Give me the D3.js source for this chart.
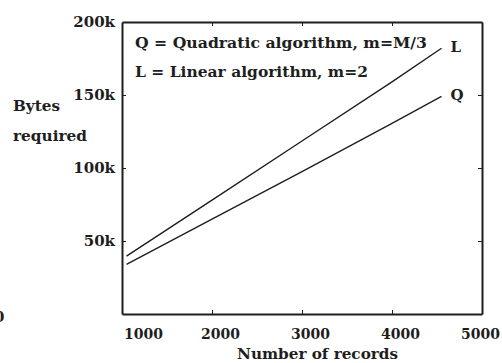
<!DOCTYPE html>
<html>
<head>
<meta charset="utf-8">
<script src="https://cdn.jsdelivr.net/npm/d3@7"></script>
<style>
body { margin: 0; background: #fff; }
text { font-family: "DejaVu Serif", serif; font-weight: bold; fill: #1e1e1e; }
.axis text { font-size: 14px; }
.yaxis text { font-size: 15px; }
.axis path, .axis line { stroke: #1e1e1e; }
</style>
</head>
<body>
<script>
// values (bytes in thousands)
var records = [1050, 2000, 3000, 4000, 4550];
var linearBytes = [39.6, 78, 118.5, 159, 182];
var quadraticBytes = [34, 65, 97.5, 130.5, 149];

var xTicks = [1000, 2000, 3000, 4000, 5000];
var yTicks = [50, 100, 150, 200];
var legendLines = ["Q = Quadratic algorithm, m=M/3", "L = Linear algorithm, m=2"];

var width = 502, height = 363;

var svg = d3.select("body").append("svg")
    .attr("width", width)
    .attr("height", height);

var x = d3.scaleLinear().domain([1000, 5000]).range([122, 482]);
var y = d3.scaleLinear().domain([0, 200]).range([314, 22]);

// bottom axis, ticks point inward
var bottomAxis = svg.append("g").attr("class", "axis")
    .attr("transform", "translate(0," + y(0) + ")")
    .call(d3.axisBottom(x).tickValues(xTicks).tickSizeInner(-4).tickSizeOuter(0).tickPadding(15)
        .tickFormat(d3.format("d")));
bottomAxis.select(".domain").attr("stroke-width", 2);
bottomAxis.selectAll(".tick text")
    .attr("dx", function(d) { return d == 1000 ? 21 : d == 5000 ? -2 : 8; });
bottomAxis.selectAll(".tick line").filter(function(d) { return d == 1000 || d == 5000; }).remove();

var leftAxis = svg.append("g").attr("class", "axis yaxis")
    .attr("transform", "translate(" + x(1000) + ",0)")
    .call(d3.axisLeft(y).tickValues(yTicks).tickSizeInner(-4).tickSizeOuter(0).tickPadding(7)
        .tickFormat(function(d) { return d + "k"; }));
leftAxis.select(".domain").attr("stroke-width", 2);
leftAxis.selectAll(".tick line").filter(function(d) { return d == 200; }).remove();

var topAxis = svg.append("g").attr("class", "axis")
    .attr("transform", "translate(0," + y(200) + ")")
    .call(d3.axisTop(x).tickValues(xTicks.slice(1, 4)).tickSizeInner(-4).tickSizeOuter(0).tickFormat(""));
topAxis.select(".domain").attr("stroke-width", 2);

var rightAxis = svg.append("g").attr("class", "axis")
    .attr("transform", "translate(" + x(5000) + ",0)")
    .call(d3.axisRight(y).tickValues(yTicks.slice(0, 3)).tickSizeInner(-4).tickSizeOuter(0).tickFormat(""));
rightAxis.select(".domain").attr("stroke-width", 2);

// series
var line = d3.line()
    .x(function(d) { return x(d[0]); })
    .y(function(d) { return y(d[1]); });

var series = [
    { name: "L", values: d3.zip(records, linearBytes) },
    { name: "Q", values: d3.zip(records, quadraticBytes) }
];

svg.selectAll(".series")
    .data(series)
    .enter().append("path")
    .attr("class", "series")
    .attr("fill", "none")
    .attr("stroke", "#1e1e1e")
    .attr("stroke-width", 1.4)
    .attr("d", function(s) { return line(s.values); });

function lastPoint(a) { return a[a.length - 1]; }

svg.selectAll(".endlabel")
    .data(series)
    .enter().append("text")
    .attr("class", "endlabel")
    .attr("x", function(s) { return x(lastPoint(s.values)[0]) + 9; })
    .attr("y", function(s) { return y(lastPoint(s.values)[1]) + 4; })
    .attr("font-size", 15)
    .text(function(s) { return s.name; });

// legend
var legendWidths = [292, 233];
svg.selectAll(".legend")
    .data(legendLines)
    .enter().append("text")
    .attr("class", "legend")
    .attr("x", 135)
    .attr("y", function(d, i) { return 48 + i * 29; })
    .attr("font-size", 14)
    .attr("textLength", function(d, i) { return legendWidths[i]; })
    .attr("lengthAdjust", "spacingAndGlyphs")
    .text(function(d) { return d; });

// axis titles
svg.append("text").attr("x", 13).attr("y", 111).attr("font-size", 15)
    .attr("textLength", 47).attr("lengthAdjust", "spacingAndGlyphs").text("Bytes");
svg.append("text").attr("x", 13).attr("y", 141).attr("font-size", 15)
    .attr("textLength", 74).attr("lengthAdjust", "spacingAndGlyphs").text("required");
svg.append("text").attr("x", 237).attr("y", 359).attr("font-size", 15)
    .attr("textLength", 161).attr("lengthAdjust", "spacingAndGlyphs").text("Number of records");

// cropped fragment at the left edge
svg.append("text").attr("x", -6).attr("y", 322).attr("font-size", 15).text("0");
</script>
</body>
</html>
